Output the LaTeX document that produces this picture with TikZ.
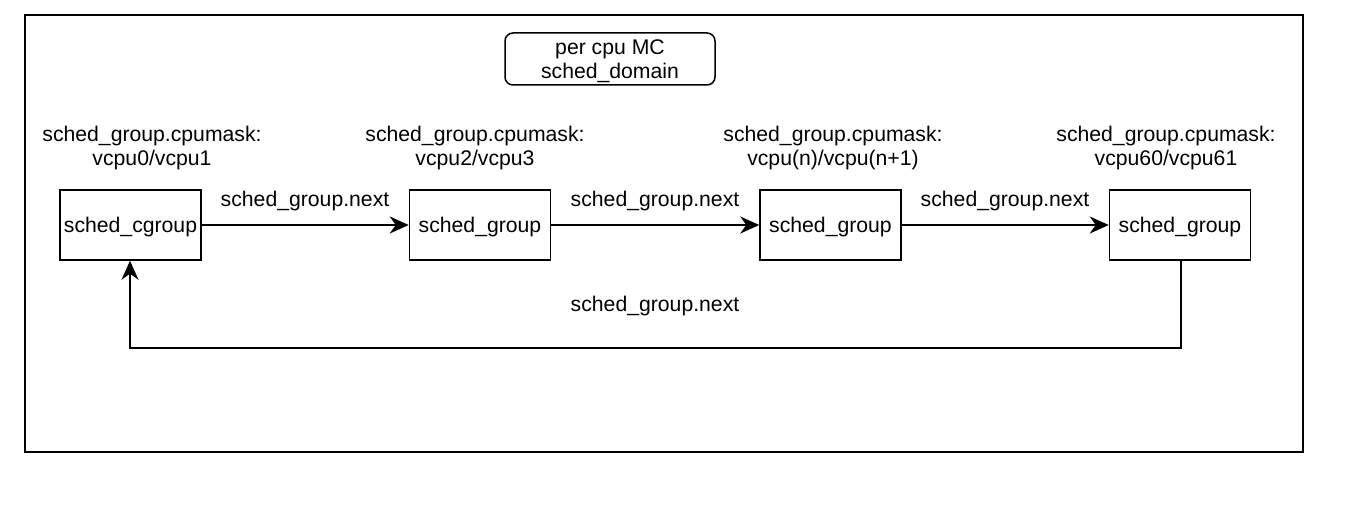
\documentclass[tikz,border=0pt]{standalone}
\usepackage{fontspec}
\setmainfont{Liberation Sans}
\usetikzlibrary{arrows.meta}
\begin{document}
\begin{tikzpicture}[x=1pt,y=-1pt,
  every node/.style={font=\fontsize{21.2}{24.5}\selectfont, inner sep=0pt},
  gbox/.style={draw, line width=1.5pt, minimum width=141pt, minimum height=70pt, text depth=0pt},
  lbl/.style={align=center},
  conn/.style={line width=1.5pt, -{Stealth[length=19pt,width=17pt,inset=6pt]}}]
\useasboundingbox (0,0) rectangle (1351,529);
\node[draw, line width=1.5pt, minimum width=1278pt, minimum height=437pt] (outer) at (664,233.5) {};
\node[draw, line width=1.5pt, rounded corners=8pt, minimum width=210pt, minimum height=52pt, align=center, text depth=0pt] (dom) at (610,59) {per cpu MC\\sched\_domain};
\node[gbox] (g1) at (130.5,225) {sched\_cgroup};
\node[gbox] (g2) at (480,225) {sched\_group};
\node[gbox] (g3) at (830.5,225) {sched\_group};
\node[gbox] (g4) at (1180,225) {sched\_group};
\node[lbl] (m1) at (152,148) {sched\_group.cpumask:\\vcpu0/vcpu1};
\node[lbl] (m2) at (475,148) {sched\_group.cpumask:\\vcpu2/vcpu3};
\node[lbl] (m3) at (833,148) {sched\_group.cpumask:\\vcpu(n)/vcpu(n+1)};
\node[lbl] (m4) at (1166,148) {sched\_group.cpumask:\\vcpu60/vcpu61};
\draw[conn] (g1) -- (g2);
\draw[conn] (g2) -- (g3);
\draw[conn] (g3) -- (g4);
\node (n1) at (305,201) {sched\_group.next};
\node (n2) at (655,201) {sched\_group.next};
\node (n3) at (1005,201) {sched\_group.next};
\coordinate (c1) at (1181,348);
\coordinate (c2) at (130,348);
\draw[conn] (g4.south -| c1) -- (c1) -- (c2) -- (g1.south -| c2);
\node (n4) at (655,306) {sched\_group.next};
\end{tikzpicture}
\end{document}
